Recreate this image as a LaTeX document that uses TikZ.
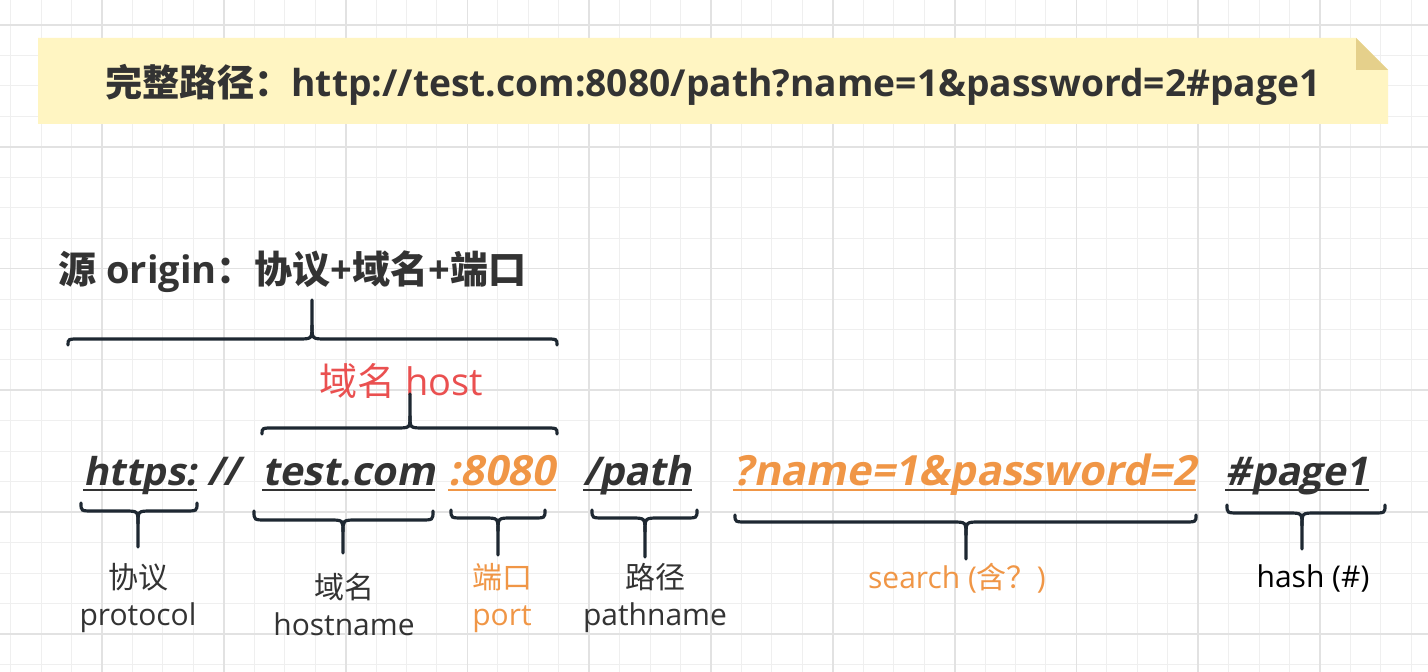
\documentclass[tikz,border=0pt]{standalone}
\usepackage{fontspec}
\setmainfont{Open Sans}
\newfontfamily\cjk{Noto Sans CJK SC}
\newfontfamily\urlfont{Open Sans}[BoldFeatures={FakeSlant=0.2}]
\usetikzlibrary{positioning}
\definecolor{cText}{RGB}{51,51,51}
\definecolor{cOrange}{RGB}{240,150,70}
\definecolor{cRed}{RGB}{234,80,80}
\definecolor{cBrace}{RGB}{30,40,50}
\definecolor{cNote}{RGB}{255,245,194}
\definecolor{cFold}{RGB}{229,208,139}
\definecolor{cGridA}{RGB}{239,239,239}
\definecolor{cGridB}{RGB}{226,226,226}
\newcommand{\hdsize}{\fontsize{18.6}{22}\selectfont}
\newcommand{\orsize}{\fontsize{19}{23}\selectfont}
\newcommand{\urlsize}{\fontsize{19.8}{23}\selectfont}
\newcommand{\urlosize}{\fontsize{20.8}{24}\selectfont}
\newcommand{\lbsize}{\fontsize{15}{18.5}\selectfont}
% curly brace: x1, x2, tip x, end y, flat y, tip y
\newcommand{\curlyb}[6]{%
  \draw[brc] (#1,#4) .. controls (#1,#5) .. ({#1+12},#5) -- ({#3-14},#5)
    .. controls (#3,#5) .. (#3,{#5+0.35*(#6-#5)}) -- (#3,#6);
  \draw[brc] (#2,#4) .. controls (#2,#5) .. ({#2-12},#5) -- ({#3+14},#5)
    .. controls (#3,#5) .. (#3,{#5+0.35*(#6-#5)});
}
\tikzset{
  gminor/.style={draw=cGridA, line width=0.5pt},
  gmajor/.style={draw=cGridB, line width=0.9pt},
  brc/.style={draw=cBrace, line width=1.6pt, line cap=round},
  url/.style={inner sep=0pt, anchor=base west, font=\urlfont\bfseries\urlsize, text=cText},
  urlo/.style={url, font=\urlfont\bfseries\urlosize, text=cOrange},
  uline/.style={line width=1.4pt},
  lbl/.style={align=center, font=\lbsize, text=cText, inner sep=0pt},
  lblo/.style={lbl, text=cOrange},
}

\begin{document}
\begin{tikzpicture}[x=0.5pt, y=-0.5pt]
  \useasboundingbox[fill=white] (0,0) rectangle (1428,672);
  % grid
  \foreach \i in {0,...,46} {\draw[gminor] ({10.65+30.45*\i},0) -- ++(0,672);}
  \foreach \i in {0,...,21} {\draw[gminor] (0,{25+30.45*\i}) -- ++(1428,0);}
  \foreach \i in {0,...,10} {\draw[gmajor] ({102+121.8*\i},0) -- ++(0,672);}
  \foreach \i in {0,...,5} {\draw[gmajor] (0,{25+121.8*\i}) -- ++(1428,0);}

  % note
  \fill[cNote] (38,38) -- (1356,38) -- (1388,70) -- (1388,124) -- (38,124) -- cycle;
  \fill[cFold] (1356,38) -- (1356,70) -- (1388,70) -- cycle;
  \node[anchor=base, inner sep=0pt, text=cText, font=\hdsize\bfseries] (full) at (713,97)
    {{\cjk 完整路径：}http://test.com:8080/path?name=1\&password=2\#page1};

  % origin + host
  \node[anchor=base west, inner sep=0pt, text=cText, font=\orsize\bfseries] (origin) at (58,284)
    {{\cjk 源} origin{\cjk ：协议}+{\cjk 域名}+{\cjk 端口}};
  \curlyb{68}{557}{312}{345}{339}{300}
  \node[anchor=base west, inner sep=0pt, text=cRed, font=\orsize] (hostlbl) at (319,396)
    {{\cjk 域名} host};
  \curlyb{262}{557}{410}{434}{428}{394}

  % url parts
  \node[url, font=\urlfont\bfseries\fontsize{19.2}{23}\selectfont] (proto) at (83,486) {https:};
  \node[url] (slash) at (207,486) {//};
  \node[url] (host) at (262,486) {test.com};
  \node[urlo] (port) at (448,486) {:8080};
  \node[url] (path) at (583,486) {/path};
  \node[urlo] (search) at (733,486) {?name=1\&password=2};
  \node[url] (hash) at (1225,486) {\#page1};
  \foreach \n/\c in {proto/cText, host/cText, port/cOrange, path/cText, search/cOrange, hash/cText}
    {\draw[uline, \c] ([yshift=-2pt]\n.base west) -- ([yshift=-2pt]\n.base east);}

  % braces below
  \curlyb{81}{197}{138}{503}{511}{547}
  \curlyb{254}{433}{343}{511}{520}{553}
  \curlyb{451}{545}{498}{510}{518}{555}
  \curlyb{592}{697}{645}{510}{518}{557}
  \curlyb{735}{1196}{966}{515}{522}{559}
  \curlyb{1227}{1385}{1302}{505}{513}{549}

  % labels
  \node[lbl] (l-proto) at (138,598) {{\cjk 协议}\\protocol};
  \node[lbl] (l-host) at (344,605) {{\cjk 域名}\\hostname};
  \node[lblo] (l-port) at (502,598) {{\cjk 端口}\\port};
  \node[lbl] (l-path) at (655,598) {{\cjk 路径}\\pathname};
  \node[lblo] (l-search) at (957,578) {search ({\cjk 含？})};
  \node[lbl, text=black] (l-hash) at (1313,578) {hash (\#)};
\end{tikzpicture}
\end{document}
